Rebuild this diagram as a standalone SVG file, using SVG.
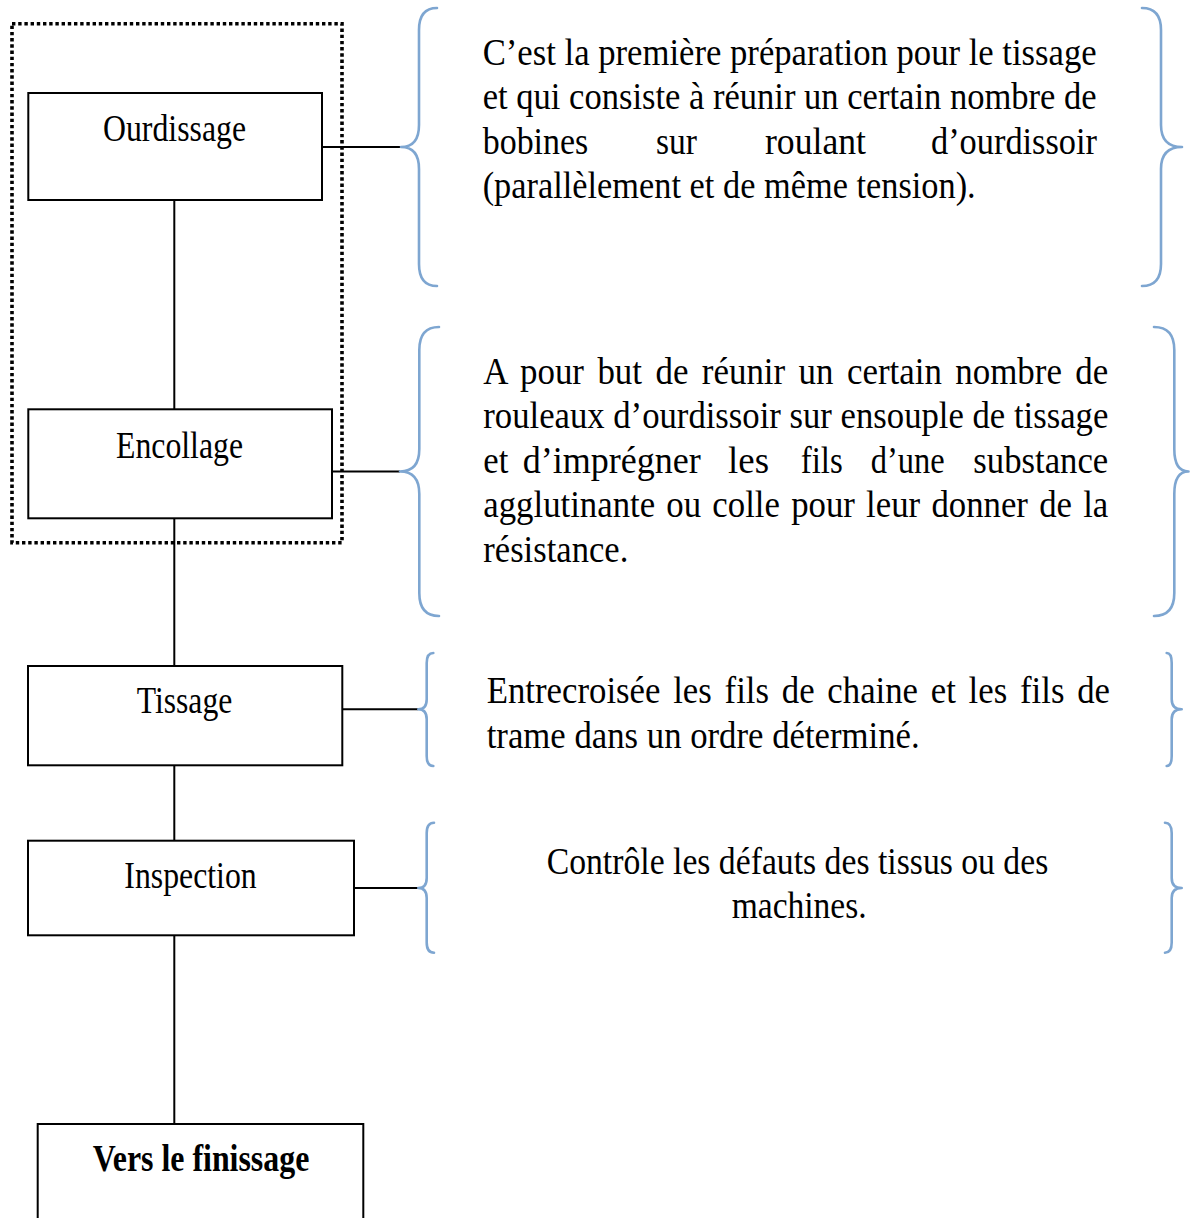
<svg xmlns="http://www.w3.org/2000/svg" width="1190" height="1218" viewBox="0 0 1190 1218">
<style>
.box{fill:#fff;stroke:#000;stroke-width:2}
.frame{fill:none;stroke:#000;stroke-width:3.6;stroke-dasharray:3.4 2.8}
.conn{fill:none;stroke:#000;stroke-width:2}
.brace{fill:none;stroke:#7EA6D1;stroke-width:2.6;stroke-linecap:round;stroke-linejoin:round}
.lbl{font-family:"Liberation Serif","Times New Roman",serif;font-size:38px;fill:#000}
.bold{font-weight:bold;font-size:37px}
.desc{font-family:"Liberation Serif","Times New Roman",serif;font-size:37px;fill:#000}
</style>
<rect width="1190" height="1218" fill="#fff"/>
<g id="frame-preparation">
<rect class="frame" x="12" y="23.7" width="330" height="519"/>
</g>
<g id="connectors">
<line class="conn" x1="174.3" y1="200" x2="174.3" y2="409.3"/>
<line class="conn" x1="174.3" y1="518.3" x2="174.3" y2="666"/>
<line class="conn" x1="174.3" y1="765.3" x2="174.3" y2="840.7"/>
<line class="conn" x1="174.3" y1="935.3" x2="174.3" y2="1124"/>
<line class="conn" x1="322" y1="147" x2="401" y2="147"/>
<line class="conn" x1="332" y1="471.5" x2="400" y2="471.5"/>
<line class="conn" x1="342.3" y1="709.3" x2="418.3" y2="709.3"/>
<line class="conn" x1="354" y1="888" x2="418.3" y2="888"/>
</g>
<g id="node-ourdissage">
<rect class="box" x="28.3" y="93" width="293.7" height="107"/>
<text class="lbl" x="103" y="140.7" textLength="143" lengthAdjust="spacingAndGlyphs">Ourdissage</text>
</g>
<g id="node-encollage">
<rect class="box" x="28.3" y="409.3" width="303.7" height="109"/>
<text class="lbl" x="116" y="458.3" textLength="127" lengthAdjust="spacingAndGlyphs">Encollage</text>
</g>
<g id="node-tissage">
<rect class="box" x="28" y="666" width="314.3" height="99.3"/>
<text class="lbl" x="136.7" y="712.7" textLength="95.6" lengthAdjust="spacingAndGlyphs">Tissage</text>
</g>
<g id="node-inspection">
<rect class="box" x="28" y="840.7" width="326" height="94.6"/>
<text class="lbl" x="124.3" y="888.3" textLength="132.4" lengthAdjust="spacingAndGlyphs">Inspection</text>
</g>
<g id="node-finissage">
<rect class="box" x="37.7" y="1124" width="325.6" height="120"/>
<text class="lbl bold" x="92.7" y="1170.7" textLength="216.6" lengthAdjust="spacingAndGlyphs">Vers le finissage</text>
</g>
<g id="desc-ourdissage">
<path class="brace" d="M437,8 Q419,8 419,30 L419,125 Q419,147 401,147 Q419,147 419,169 L419,264 Q419,286 437,286"/>
<path class="brace" d="M1142,8 Q1161,8 1161,30 L1161,125 Q1161,147 1182,147 Q1161,147 1161,169 L1161,264 Q1161,286 1142,286"/>
<text class="desc" x="482.7" y="64.5" textLength="614" lengthAdjust="spacingAndGlyphs">C’est la première préparation pour le tissage</text>
<text class="desc" x="482.7" y="109" textLength="614" lengthAdjust="spacingAndGlyphs">et qui consiste à réunir un certain nombre de</text>
<text class="desc" x="482.7" y="153.5" textLength="105.6" lengthAdjust="spacingAndGlyphs">bobines</text>
<text class="desc" x="656" y="153.5" textLength="41" lengthAdjust="spacingAndGlyphs">sur</text>
<text class="desc" x="765" y="153.5" textLength="101" lengthAdjust="spacingAndGlyphs">roulant</text>
<text class="desc" x="931" y="153.5" textLength="166" lengthAdjust="spacingAndGlyphs">d’ourdissoir</text>
<text class="desc" x="482.7" y="198" textLength="493" lengthAdjust="spacingAndGlyphs">(parallèlement et de même tension).</text>
</g>
<g id="desc-encollage">
<path class="brace" d="M439,327 Q419.3,327 419.3,350 L419.3,449 Q419.3,471.5 400,471.5 Q419.3,471.5 419.3,494 L419.3,593 Q419.3,616 439,616"/>
<path class="brace" d="M1154,327 Q1174.3,327 1174.3,350 L1174.3,449 Q1174.3,471.5 1188.5,471.5 Q1174.3,471.5 1174.3,494 L1174.3,593 Q1174.3,616 1154,616"/>
<text class="desc" x="483.3" y="383.5" textLength="625" lengthAdjust="spacingAndGlyphs" style="word-spacing:5px">A pour but de réunir un certain nombre de</text>
<text class="desc" x="483.3" y="428" textLength="625" lengthAdjust="spacingAndGlyphs">rouleaux d’ourdissoir sur ensouple de tissage</text>
<text class="desc" x="483.3" y="472.5" textLength="25" lengthAdjust="spacingAndGlyphs">et</text>
<text class="desc" x="522.7" y="472.5" textLength="178" lengthAdjust="spacingAndGlyphs">d’imprégner</text>
<text class="desc" x="728" y="472.5" textLength="41" lengthAdjust="spacingAndGlyphs">les</text>
<text class="desc" x="800.7" y="472.5" textLength="42" lengthAdjust="spacingAndGlyphs">fils</text>
<text class="desc" x="870.7" y="472.5" textLength="74" lengthAdjust="spacingAndGlyphs">d’une</text>
<text class="desc" x="973.3" y="472.5" textLength="135" lengthAdjust="spacingAndGlyphs">substance</text>
<text class="desc" x="483.3" y="517" textLength="625" lengthAdjust="spacingAndGlyphs" style="word-spacing:2.7px">agglutinante ou colle pour leur donner de la</text>
<text class="desc" x="483.3" y="561.5" textLength="145" lengthAdjust="spacingAndGlyphs">résistance.</text>
</g>
<g id="desc-tissage">
<path class="brace" d="M433.3,653 Q426.7,653 426.7,663 L426.7,699.3 Q426.7,709.3 418.3,709.3 Q426.7,709.3 426.7,719.3 L426.7,756 Q426.7,766 433.3,766"/>
<path class="brace" d="M1166.7,653 Q1171.7,653 1171.7,663 L1171.7,699.3 Q1171.7,709.3 1181.7,709.3 Q1171.7,709.3 1171.7,719.3 L1171.7,756 Q1171.7,766 1166.7,766"/>
<text class="desc" x="486.7" y="703.3" textLength="623.3" lengthAdjust="spacingAndGlyphs" style="word-spacing:4.3px">Entrecroisée les fils de chaine et les fils de</text>
<text class="desc" x="486.7" y="748.3" textLength="433" lengthAdjust="spacingAndGlyphs">trame dans un ordre déterminé.</text>
</g>
<g id="desc-inspection">
<path class="brace" d="M434,822.7 Q426.7,822.7 426.7,833 L426.7,878 Q426.7,888 418.3,888 Q426.7,888 426.7,898 L426.7,942.5 Q426.7,952.7 434,952.7"/>
<path class="brace" d="M1165,822.7 Q1171.7,822.7 1171.7,833 L1171.7,878 Q1171.7,888 1181.7,888 Q1171.7,888 1171.7,898 L1171.7,942.5 Q1171.7,952.7 1165,952.7"/>
<text class="desc" x="546.7" y="874" textLength="501.6" lengthAdjust="spacingAndGlyphs">Contrôle les défauts des tissus ou des</text>
<text class="desc" x="731.7" y="918" textLength="135" lengthAdjust="spacingAndGlyphs">machines.</text>
</g>
</svg>
